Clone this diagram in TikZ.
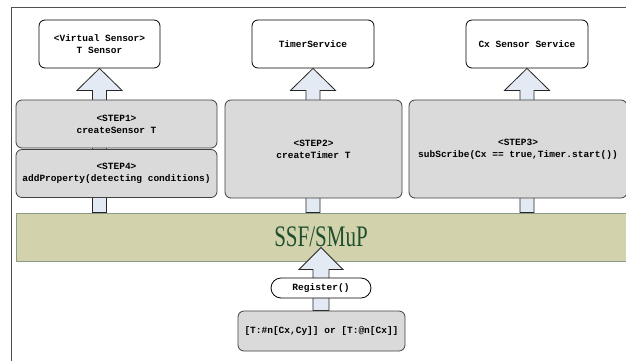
\documentclass[tikz,border=0pt]{standalone}
\usepackage{fontspec}
\usepackage{graphicx}
\setmonofont{Liberation Mono}
\newfontfamily\barfont{Liberation Serif}
\usetikzlibrary{calc}
\pgfdeclarelayer{back}
\pgfdeclarelayer{mid}
\pgfsetlayers{back,mid,main}

\definecolor{boxgray}{HTML}{DADADA}
\definecolor{edgegray}{HTML}{404040}
\definecolor{arrowfill}{HTML}{E3EAF4}
\definecolor{barfill}{HTML}{D2D3AC}
\definecolor{baredge}{HTML}{8A9C86}
\definecolor{bartext}{HTML}{1F4F2E}
\definecolor{framegray}{HTML}{505050}

\tikzset{
  lbl/.style={font=\ttfamily\bfseries\fontsize{9.5}{12}\selectfont, align=center, inner sep=0pt},
  servicebox/.style={lbl, draw=black, fill=white, rounded corners=6pt, line width=0.8pt},
  stepbox/.style={lbl, draw=edgegray, fill=boxgray, rounded corners=6pt, line width=0.8pt},
  pillbox/.style={lbl, draw=black, fill=white, rounded corners=10pt, line width=0.8pt},
  busbar/.style={draw=baredge, fill=barfill, line width=0.9pt, inner sep=0pt},
  arrowbody/.style={draw=black!85, fill=arrowfill, line width=0.8pt, line join=miter},
}

% Block arrow: shaft from the source's top edge, head touching the target's bottom edge
\newcommand\blockarrow[2]{%
  \draw[arrowbody] let \p1=(#2.south), \p2=(#1.north -| #2.south) in
    (\x1,\y1) -- (\x1+22.5pt,\y1-22pt) -- (\x1+7pt,\y1-22pt) -- (\x1+7pt,\y2)
    -- (\x1-7pt,\y2) -- (\x1-7pt,\y1-22pt) -- (\x1-22.5pt,\y1-22pt) -- cycle;}

\begin{document}
\begin{tikzpicture}[x=1pt,y=-1pt]
\useasboundingbox (0,0) rectangle (626,360);
\clip (0,0) rectangle (626,360);

\begin{pgfonlayer}{back}
  \draw[framegray, line width=0.9pt] (11.5,7.5) rectangle (640,380);
  \node[busbar, minimum width=614pt, minimum height=48pt] (ssf) at (323,237) {};
  \node[text=bartext, inner sep=0pt] (ssflabel) at (321,237)
    {\scalebox{1}[1.42]{\barfont\fontsize{21}{21}\selectfont SSF/SMuP}};
\end{pgfonlayer}

% services
\node[servicebox, minimum width=121pt, minimum height=48pt] (vs) at (99.5,44)
  {<Virtual Sensor>\\T Sensor};
\node[servicebox, minimum width=122pt, minimum height=48pt] (ts) at (313,44)
  {TimerService};
\node[servicebox, minimum width=122pt, minimum height=48pt] (cs) at (527,44)
  {Cx Sensor Service};

% steps
\node[stepbox, minimum width=201pt, minimum height=48pt] (s1) at (116.5,124)
  {<STEP1>\\createSensor T};
\node[stepbox, minimum width=201pt, minimum height=48pt] (s4) at (116.5,173.5)
  {<STEP4>\\addProperty(detecting conditions)};
\node[stepbox, minimum width=177pt, minimum height=98pt] (s2) at (313.5,149)
  {<STEP2>\\createTimer T};
\node[stepbox, minimum width=218pt, minimum height=98pt] (s3) at (518,149)
  {<STEP3>\\subScribe(Cx == true,Timer.start())};

% registration
\node[pillbox, minimum width=100pt, minimum height=20pt] (reg) at (321,288)
  {Register()};
\node[stepbox, minimum width=167pt, minimum height=40pt] (bot) at (321.5,331)
  {[T:\#n[Cx,Cy]] or [T:@n[Cx]]};

\begin{pgfonlayer}{mid}
  \blockarrow{ssf}{vs}
  \blockarrow{ssf}{ts}
  \blockarrow{ssf}{cs}
  \coordinate (regtip) at ($(ssf.south -| reg.north)+(0,-14)$);
  \draw[arrowbody] let \p1=(regtip), \p2=(bot.north -| regtip) in
    (\x1,\y1) -- (\x1+22pt,\y1-22pt) -- (\x1+8pt,\y1-22pt) -- (\x1+8pt,\y2)
    -- (\x1-8pt,\y2) -- (\x1-8pt,\y1-22pt) -- (\x1-22pt,\y1-22pt) -- cycle;
\end{pgfonlayer}
\end{tikzpicture}
\end{document}
